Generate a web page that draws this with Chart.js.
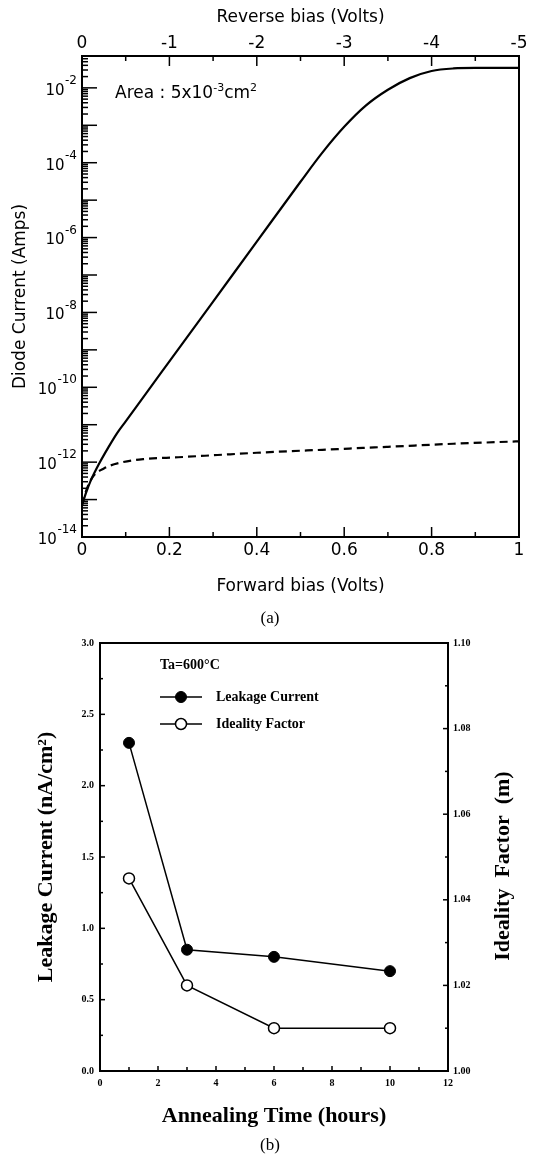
<!DOCTYPE html>
<html><head><meta charset="utf-8">
<script src="https://cdn.jsdelivr.net/npm/chart.js@4.4.1/dist/chart.umd.min.js"></script>
<style>
html,body{margin:0;padding:0;background:#fff;}
body{width:540px;height:1154px;position:relative;overflow:hidden;}
canvas{position:absolute;left:0;}
#ca{top:0;} #cb{top:600px;}
.t{position:absolute;white-space:nowrap;color:#000;}
#area{left:115px;top:82px;font:17px "DejaVu Sans";line-height:20px;}
#area sup{font-size:11px;vertical-align:7px;line-height:0;}
.cap{font:17px "Liberation Serif";width:540px;text-align:center;left:0;line-height:20px;}
#capa{top:608px;} #capb{top:1135px;}
</style></head><body>
<canvas id="ca" width="540" height="600"></canvas>
<canvas id="cb" width="540" height="554"></canvas>
<div class="t" id="area">Area : 5x10<sup>-3</sup>cm<sup>2</sup></div>
<div class="t cap" id="capa">(a)</div>
<div class="t cap" id="capb">(b)</div>
<script>
// ---------- data (a) ----------
const forwardBias = [0, 0.01, 0.02, 0.04, 0.06, 0.08, 0.10, 0.15, 0.20, 0.30, 0.40, 0.50, 0.55, 0.60, 0.65, 0.70, 0.75, 0.80, 0.85, 0.90, 1.00];
const forwardCurrent = [7.1e-14, 1.6e-13, 3.2e-13, 9.5e-13, 2.45e-12, 5.9e-12, 1.23e-11, 7.8e-11, 4.9e-10, 1.95e-8, 7.8e-7, 3.1e-5, 1.86e-4, 9.1e-4, 3.4e-3, 8.9e-3, 1.82e-2, 2.82e-2, 3.3e-2, 3.4e-2, 3.4e-2];
const reverseBias = [0, -0.05, -0.125, -0.25, -0.45, -0.7, -1.1, -1.55, -2.0, -2.75, -3.5, -4.25, -5.0];
const reverseCurrent = [7.1e-14, 1.8e-13, 4.1e-13, 6.8e-13, 9.8e-13, 1.2e-12, 1.35e-12, 1.55e-12, 1.78e-12, 2.14e-12, 2.57e-12, 3.1e-12, 3.6e-12];
const labeledExponents = [-14, -12, -10, -8, -6, -4, -2];

// ---------- data (b) ----------
const annealTime = [1, 3, 6, 10];
const leakageCurrent = [2.3, 0.85, 0.80, 0.70];
const idealityFactor = [1.045, 1.02, 1.01, 1.01];

Chart.defaults.color = '#000';

const near = (v, step) => Math.abs(v / step - Math.round(v / step)) < 1e-6;

function tickPlugin(specs, frameWidth) {
  return {
    id: 'inward',
    afterDraw(chart) {
      const ctx = chart.ctx, a = chart.chartArea;
      ctx.save();
      ctx.strokeStyle = '#000';
      ctx.lineWidth = 1.5;
      for (const sp of specs) {
        const s = chart.scales[sp.id];
        for (const t of s.ticks) {
          const len = sp.len(t.value);
          if (!len) continue;
          const p = s.getPixelForValue(t.value);
          ctx.beginPath();
          if (sp.side === 'left') { ctx.moveTo(a.left, p); ctx.lineTo(a.left + len, p); }
          else if (sp.side === 'right') { ctx.moveTo(a.right, p); ctx.lineTo(a.right - len, p); }
          else if (sp.side === 'bottom') { ctx.moveTo(p, a.bottom); ctx.lineTo(p, a.bottom - len); }
          else { ctx.moveTo(p, a.top); ctx.lineTo(p, a.top + len); }
          ctx.stroke();
        }
      }
      ctx.lineWidth = frameWidth;
      ctx.strokeRect(a.left, a.top, a.right - a.left, a.bottom - a.top);
      ctx.restore();
    }
  };
}

// power-of-ten labels for the log axis (base at normal size, exponent raised)
const powLabels = {
  id: 'powLabels',
  afterDraw(chart) {
    const ctx = chart.ctx, s = chart.scales.y;
    const xr = s.right - 5;
    ctx.save();
    ctx.fillStyle = '#000';
    ctx.textAlign = 'right';
    ctx.textBaseline = 'middle';
    for (const e of labeledExponents) {
      const p = s.getPixelForValue(Math.pow(10, e));
      const ex = String(e);
      ctx.font = '12px "DejaVu Sans"';
      const w = ctx.measureText(ex).width;
      ctx.fillText(ex, xr, p - 7);
      ctx.font = '15px "DejaVu Sans"';
      ctx.fillText('10', xr - w - 0.5, p + 3);
    }
    ctx.restore();
  }
};

// ---------- chart (a) ----------
const fA = {family: '"DejaVu Sans"', size: 17};
new Chart(document.getElementById('ca'), {
  type: 'line',
  data: {datasets: [
    {label: 'Forward', data: forwardBias.map((x, i) => ({x, y: forwardCurrent[i]})), xAxisID: 'x', yAxisID: 'y',
     borderColor: '#000', borderWidth: 2.2, pointRadius: 0, cubicInterpolationMode: 'monotone', fill: false},
    {label: 'Reverse', data: reverseBias.map((x, i) => ({x, y: reverseCurrent[i]})), xAxisID: 'x2', yAxisID: 'y',
     borderColor: '#000', borderWidth: 2.2, borderDash: [8, 5], pointRadius: 0, cubicInterpolationMode: 'monotone', fill: false}
  ]},
  options: {
    responsive: false, animation: false, devicePixelRatio: 1,
    layout: {padding: {left: 0, right: 21, top: 0, bottom: 0}},
    plugins: {legend: {display: false}, tooltip: {enabled: false}},
    scales: {
      x: {type: 'linear', position: 'bottom', min: 0, max: 1,
        grid: {display: false, drawTicks: false}, border: {display: false},
        ticks: {stepSize: 0.1, autoSkip: false, maxRotation: 0, padding: 3, font: fA,
          callback: v => near(v, 0.2) ? String(Math.round(v * 10) / 10) : ''},
        title: {display: true, text: 'Forward bias (Volts)', font: fA, padding: {top: 0, bottom: 3}},
        afterFit: s => { s.height = 63; }},
      x2: {type: 'linear', position: 'top', min: -5, max: 0, reverse: true,
        grid: {display: false, drawTicks: false}, border: {display: false},
        ticks: {stepSize: 0.5, autoSkip: false, maxRotation: 0, padding: 2, font: fA,
          callback: v => near(v, 1) ? String(Math.round(v) === 0 ? 0 : Math.round(v)) : ''},
        title: {display: true, text: 'Reverse bias (Volts)', font: fA, padding: {top: 7, bottom: 0}},
        afterFit: s => { s.height = 56; }},
      y: {type: 'logarithmic', position: 'left', min: 1e-14, max: 0.071,
        grid: {display: false, drawTicks: false}, border: {display: false},
        afterBuildTicks: s => {
          const t = [];
          for (let e = -14; e <= -2; e++) for (let m = 1; m <= 9; m++) {
            const v = m * Math.pow(10, e);
            if (v <= s.max * 1.0001) t.push({value: v});
          }
          s.ticks = t;
        },
        ticks: {display: false, autoSkip: false},
        title: {display: true, text: 'Diode Current (Amps)', font: fA, padding: {top: 10, bottom: 0}},
        afterFit: s => { s.width = 82; }}
    }
  },
  plugins: [tickPlugin([
    {id: 'y', side: 'left', len: v => { const e = Math.log10(v); return Math.abs(e - Math.round(e)) < 1e-6 ? 15 : 6; }},
    {id: 'x', side: 'bottom', len: v => near(v, 0.2) ? 10 : 5},
    {id: 'x2', side: 'top', len: v => near(v, 1) ? 10 : 5}
  ], 2), powLabels]
});

// ---------- chart (b) ----------
const fB = {family: '"Liberation Serif"', size: 10, weight: 'bold'};
const fBT = {family: '"Liberation Serif"', size: 22, weight: 'bold'};
const decorB = {
  id: 'decorB',
  afterDraw(chart) {
    const ctx = chart.ctx;
    ctx.save();
    ctx.fillStyle = '#000'; ctx.strokeStyle = '#000';
    ctx.font = 'bold 14px "Liberation Serif"';
    ctx.textBaseline = 'middle'; ctx.textAlign = 'left';
    ctx.fillText('Ta=600\u00B0C', 160, 65);
    chart.data.datasets.forEach((ds, i) => {
      const y = 97 + i * 27;
      ctx.lineWidth = 1.5;
      ctx.beginPath(); ctx.moveTo(160, y); ctx.lineTo(202, y); ctx.stroke();
      ctx.beginPath(); ctx.arc(181, y, 5.5, 0, Math.PI * 2);
      ctx.fillStyle = ds.pointBackgroundColor; ctx.fill();
      ctx.lineWidth = ds.pointBorderWidth; ctx.stroke();
      ctx.fillStyle = '#000';
      ctx.fillText(ds.label, 216, y);
    });
    ctx.font = 'bold 22px "Liberation Serif"';
    ctx.textAlign = 'center';
    ctx.translate(503, 266);
    ctx.rotate(-Math.PI / 2);
    ctx.fillText('Ideality  Factor  (m)', 0, 0);
    ctx.restore();
  }
};
new Chart(document.getElementById('cb'), {
  type: 'line',
  data: {datasets: [
    {label: 'Leakage Current', data: annealTime.map((x, i) => ({x, y: leakageCurrent[i]})), yAxisID: 'y',
     borderColor: '#000', borderWidth: 1.5, pointRadius: 5.5, pointBackgroundColor: '#000', pointBorderColor: '#000', pointBorderWidth: 1, tension: 0},
    {label: 'Ideality Factor', data: annealTime.map((x, i) => ({x, y: idealityFactor[i]})), yAxisID: 'y1',
     borderColor: '#000', borderWidth: 1.5, pointRadius: 5.5, pointBackgroundColor: '#fff', pointBorderColor: '#000', pointBorderWidth: 1.5, tension: 0}
  ]},
  options: {
    responsive: false, animation: false, devicePixelRatio: 1,
    layout: {padding: {left: 0, right: 0, top: 43, bottom: 0}},
    plugins: {legend: {display: false}, tooltip: {enabled: false}},
    scales: {
      x: {type: 'linear', position: 'bottom', min: 0, max: 12,
        grid: {display: false, drawTicks: false}, border: {display: false},
        ticks: {stepSize: 1, autoSkip: false, maxRotation: 0, padding: 6, font: fB,
          callback: v => near(v, 2) ? String(Math.round(v)) : ''},
        title: {display: true, text: 'Annealing Time (hours)', font: fBT, padding: {top: 0, bottom: 24}},
        afterFit: s => { s.height = 83; }},
      y: {type: 'linear', position: 'left', min: 0, max: 3,
        grid: {display: false, drawTicks: false}, border: {display: false},
        ticks: {stepSize: 0.25, autoSkip: false, padding: 6, font: fB,
          callback: v => near(v, 0.5) ? v.toFixed(1) : ''},
        title: {display: true, text: 'Leakage Current (nA/cm\u00B2)', font: fBT, padding: {top: 33, bottom: 0}},
        afterFit: s => { s.width = 100; }},
      y1: {type: 'linear', position: 'right', min: 1.0, max: 1.1,
        grid: {display: false, drawTicks: false}, border: {display: false},
        ticks: {stepSize: 0.01, autoSkip: false, padding: 5, font: fB,
          callback: v => near(v, 0.02) ? v.toFixed(2) : ''},
        afterFit: s => { s.width = 92; }}
    }
  },
  plugins: [tickPlugin([
    {id: 'y', side: 'left', len: v => near(v, 0.5) ? 5 : 3},
    {id: 'y1', side: 'right', len: v => near(v, 0.02) ? 5 : 3},
    {id: 'x', side: 'bottom', len: v => near(v, 2) ? 5 : 4}
  ], 2), decorB]
});
</script>
</body></html>
